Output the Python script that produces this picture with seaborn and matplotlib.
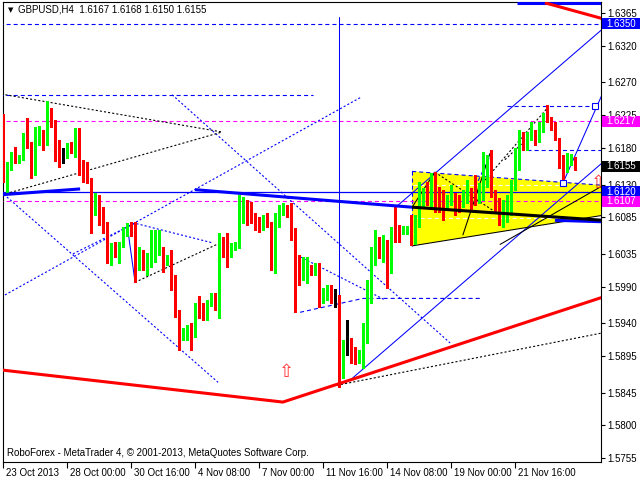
import numpy as np
import pandas as pd
import matplotlib
matplotlib.use('Agg')
import matplotlib.pyplot as plt
import matplotlib.transforms as mtransforms
from matplotlib.patches import Rectangle, Polygon
import seaborn as sns

# H4 candles (bar index = position from the left)
opens = [1.6224, 1.6142, 1.6154, 1.6173, 1.6161, 1.6166, 1.6188, 1.6187, 1.6144, 1.6191,
         1.6201, 1.6187, 1.6224, 1.6214, 1.6188, 1.6162, 1.6169, 1.6184, 1.6175, 1.6205,
         1.6147, 1.6143, 1.6136, 1.6091, 1.6106, 1.6095, 1.6068, 1.6024, 1.6044, 1.6038,
         1.6047, 1.6064, 1.6072, 1.6075, 1.6033, 1.6036, 1.6016, 1.6020, 1.6029, 1.6038,
         1.6040, 1.6023, 1.6038, 1.6003, 1.5954, 1.5920, 1.5920, 1.5928, 1.5924, 1.5955,
         1.5955, 1.5947, 1.5966, 1.5975, 1.5965, 1.6051, 1.6054, 1.6033, 1.6044, 1.6044,
         1.6081, 1.6097, 1.6088, 1.6084, 1.6079, 1.6070, 1.6084, 1.6075, 1.6016, 1.6075,
         1.6092, 1.6098, 1.6092, 1.6068, 1.6031, 1.6002, 1.5999, 1.6016, 1.6010, 1.6020,
         1.5972, 1.5974, 1.5988, 1.5974, 1.5974, 1.5872, 1.5913, 1.5914, 1.5903, 1.5890,
         1.5887, 1.5917, 1.5972, 1.6024, 1.6050, 1.6029, 1.6036, 1.6013, 1.6081, 1.6072,
         1.6065, 1.6065, 1.6068, 1.6054, 1.6081, 1.6105, 1.6123, 1.6118, 1.6143, 1.6118,
         1.6109, 1.6099, 1.6106, 1.6113, 1.6106, 1.6106, 1.6109, 1.6118, 1.6120, 1.6109,
         1.6112, 1.6129, 1.6159, 1.6118, 1.6105, 1.6084, 1.6086, 1.6091, 1.6127, 1.6159,
         1.6198, 1.6184, 1.6194, 1.6198, 1.6191, 1.6205, 1.6235, 1.6221, 1.6209, 1.6191,
         1.6168, 1.6153, 1.6160, 1.6167]
highs = [1.6227, 1.6161, 1.6175, 1.6181, 1.6170, 1.6201, 1.6221, 1.6188, 1.6209, 1.6210,
         1.6205, 1.6244, 1.6235, 1.6218, 1.6191, 1.6180, 1.6187, 1.6188, 1.6207, 1.6207,
         1.6164, 1.6161, 1.6139, 1.6118, 1.6116, 1.6099, 1.6079, 1.6050, 1.6051, 1.6051,
         1.6072, 1.6077, 1.6079, 1.6079, 1.6044, 1.6040, 1.6036, 1.6068, 1.6068, 1.6068,
         1.6044, 1.6033, 1.6040, 1.6006, 1.5958, 1.5934, 1.5938, 1.5940, 1.5968, 1.5977,
         1.5968, 1.5972, 1.5981, 1.5981, 1.6064, 1.6058, 1.6064, 1.6050, 1.6051, 1.6116,
         1.6113, 1.6109, 1.6106, 1.6091, 1.6086, 1.6088, 1.6091, 1.6079, 1.6091, 1.6102,
         1.6105, 1.6102, 1.6105, 1.6070, 1.6033, 1.6031, 1.6031, 1.6020, 1.6023, 1.6023,
         1.5988, 1.5992, 1.5992, 1.5987, 1.5979, 1.5917, 1.5944, 1.5920, 1.5907, 1.5903,
         1.5940, 1.5999, 1.6044, 1.6068, 1.6058, 1.6061, 1.6054, 1.6072, 1.6099, 1.6075,
         1.6073, 1.6073, 1.6088, 1.6088, 1.6133, 1.6125, 1.6133, 1.6146, 1.6147, 1.6127,
         1.6123, 1.6116, 1.6129, 1.6118, 1.6116, 1.6123, 1.6136, 1.6125, 1.6143, 1.6132,
         1.6175, 1.6170, 1.6177, 1.6123, 1.6112, 1.6109, 1.6116, 1.6136, 1.6180, 1.6205,
         1.6202, 1.6202, 1.6216, 1.6205, 1.6216, 1.6228, 1.6239, 1.6223, 1.6216, 1.6194,
         1.6170, 1.6173, 1.6172, 1.6168]
lows = [1.6134, 1.6120, 1.6150, 1.6160, 1.6160, 1.6164, 1.6180, 1.6139, 1.6143, 1.6184,
        1.6177, 1.6184, 1.6209, 1.6162, 1.6154, 1.6160, 1.6166, 1.6173, 1.6168, 1.6143,
        1.6134, 1.6132, 1.6064, 1.6088, 1.6075, 1.6064, 1.6023, 1.6020, 1.6031, 1.6023,
        1.6044, 1.6060, 1.6060, 1.5996, 1.6013, 1.6013, 1.6006, 1.6017, 1.6024, 1.6033,
        1.6010, 1.6020, 1.5986, 1.5948, 1.5903, 1.5917, 1.5917, 1.5903, 1.5921, 1.5947,
        1.5944, 1.5944, 1.5963, 1.5958, 1.5947, 1.6031, 1.6017, 1.6031, 1.6040, 1.6043,
        1.6077, 1.6075, 1.6077, 1.6068, 1.6065, 1.6068, 1.6072, 1.6013, 1.6009, 1.6072,
        1.6088, 1.6086, 1.6054, 1.5955, 1.5992, 1.5999, 1.5995, 1.6006, 1.6006, 1.5962,
        1.5968, 1.5972, 1.5968, 1.5962, 1.5853, 1.5865, 1.5896, 1.5886, 1.5884, 1.5886,
        1.5879, 1.5913, 1.5968, 1.6020, 1.6029, 1.6024, 1.5988, 1.6009, 1.6051, 1.6051,
        1.6062, 1.6062, 1.6047, 1.6048, 1.6072, 1.6099, 1.6102, 1.6099, 1.6092, 1.6092,
        1.6081, 1.6095, 1.6102, 1.6088, 1.6092, 1.6099, 1.6105, 1.6095, 1.6102, 1.6105,
        1.6109, 1.6127, 1.6113, 1.6092, 1.6075, 1.6072, 1.6079, 1.6088, 1.6123, 1.6150,
        1.6177, 1.6177, 1.6191, 1.6184, 1.6188, 1.6202, 1.6216, 1.6205, 1.6191, 1.6153,
        1.6132, 1.6147, 1.6157, 1.6150]
closes = [1.6150, 1.6155, 1.6172, 1.6161, 1.6169, 1.6188, 1.6183, 1.6143, 1.6194, 1.6199,
          1.6187, 1.6229, 1.6212, 1.6164, 1.6161, 1.6162, 1.6183, 1.6176, 1.6202, 1.6146,
          1.6142, 1.6136, 1.6091, 1.6105, 1.6091, 1.6068, 1.6024, 1.6044, 1.6038, 1.6047,
          1.6065, 1.6070, 1.6062, 1.6024, 1.6038, 1.6017, 1.6023, 1.6040, 1.6051, 1.6050,
          1.6016, 1.6029, 1.5999, 1.5954, 1.5907, 1.5927, 1.5931, 1.5924, 1.5954, 1.5953,
          1.5948, 1.5968, 1.5970, 1.5961, 1.6050, 1.6033, 1.6031, 1.6043, 1.6047, 1.6084,
          1.6096, 1.6086, 1.6084, 1.6072, 1.6068, 1.6084, 1.6075, 1.6016, 1.6077, 1.6092,
          1.6098, 1.6091, 1.6068, 1.6002, 1.6001, 1.6020, 1.6027, 1.6010, 1.6020, 1.5972,
          1.5979, 1.5988, 1.5972, 1.5974, 1.5872, 1.5913, 1.5913, 1.5901, 1.5887, 1.5896,
          1.5920, 1.5975, 1.6024, 1.6057, 1.6033, 1.6054, 1.6006, 1.6068, 1.6068, 1.6064,
          1.6069, 1.6070, 1.6054, 1.6079, 1.6103, 1.6118, 1.6109, 1.6134, 1.6118, 1.6106,
          1.6099, 1.6109, 1.6118, 1.6095, 1.6098, 1.6113, 1.6120, 1.6105, 1.6106, 1.6125,
          1.6132, 1.6159, 1.6118, 1.6099, 1.6086, 1.6099, 1.6092, 1.6127, 1.6173, 1.6201,
          1.6187, 1.6195, 1.6201, 1.6191, 1.6209, 1.6222, 1.6218, 1.6207, 1.6194, 1.6157,
          1.6147, 1.6166, 1.6167, 1.6155]

date_ticks = [0, 16, 32, 48, 64, 80, 96, 112, 128]
date_labels = ['23 Oct 2013', '28 Oct 00:00', '30 Oct 16:00', '4 Nov 08:00', '7 Nov 00:00',
               '11 Nov 16:00', '14 Nov 08:00', '19 Nov 00:00', '21 Nov 16:00']
price_ticks = [1.6365, 1.6320, 1.6270, 1.6225, 1.6180, 1.6130, 1.6085, 1.6035,
               1.5990, 1.5940, 1.5895, 1.5845, 1.5800, 1.5755]

# price levels (value, colour) shown as boxes on the price scale
level_tags = [(1.6350, '#0000ff'), (1.6217, '#ff00ff'), (1.6155, '#000000'),
              (1.6120, '#0000ff'), (1.6107, '#ff00ff')]

# drawing objects, (bar, price) anchor points
blue_dash_full = [(-1, 1.6350), (150, 1.6350)]
blue_dash_left = [(-1, 1.6253), (77.4, 1.6253)]
blue_dash_high = [(125.9, 1.6238), (148.2, 1.6238)]
blue_dash_mid = [(130.9, 1.6177), (150, 1.6177)]
blue_dash_low = [(74.2, 1.5955), (89.9, 1.5974), (119.2, 1.5974)]
blue_dash_small = [(118.7, 1.6135), (122.4, 1.6177)]
magenta_levels = [1.6217, 1.6107]
blue_level = 1.6120

thick_blue = [
    [(-0.5, 1.6116), (19.2, 1.6124)],
    [(47.9, 1.6123), (79.2, 1.6109), (102.2, 1.6099)],
    [(137.9, 1.6081), (150, 1.6079)],
    [(128.4, 1.6379), (150, 1.6379)],
]
thick_black = [(102.2, 1.6099), (150, 1.6081)]
thick_red = [
    [(-0.5, 1.5876), (69.9, 1.5832), (150, 1.5976)],
    [(135.4, 1.6379), (150, 1.6357)],
]
thin_blue = [
    [(84, 1.6360), (84, 1.5855)],
    [(86.7, 1.5862), (150, 1.6161)],
    [(97.9, 1.6098), (150, 1.6344)],
    [(139.9, 1.6132), (150, 1.6257)],
    [(30.9, 1.6077), (32.9, 1.5998)],
]
blue_dotted = [
    [(0.9, 1.6113), (53.7, 1.5859)],
    [(42.2, 1.6253), (111.7, 1.5913)],
    [(-0.5, 1.5976), (89.2, 1.6249)],
    [(74.2, 1.6031), (95.4, 1.5972)],
    [(17.4, 1.6035), (32.9, 1.6077), (52.4, 1.6050)],
]
black_dotted = [
    [(-0.5, 1.6254), (54.7, 1.6202)],
    [(1.7, 1.6119), (54.7, 1.6202)],
    [(32.9, 1.5996), (54.2, 1.6050)],
    [(83.4, 1.5855), (150, 1.5927)],
    [(107.9, 1.6147), (123.4, 1.6091)],
    [(120.4, 1.6136), (136.2, 1.6236)],
    [(125.4, 1.6164), (131.2, 1.6194)],
]
black_thin = [
    [(102.2, 1.6046), (150, 1.6088)],
    [(102.2, 1.6099), (107.9, 1.6147)],
    [(114.9, 1.6061), (121.7, 1.6173)],
    [(124.2, 1.6048), (150, 1.6129)],
]
yellow_zone = [(102.2, 1.6148), (150, 1.6129), (150, 1.6088), (102.2, 1.6046)]
white_dashed = [1.6129, 1.6084]
markers = [(139.9, 1.6132), (147.9, 1.6238)]
arrows = [(70.9, 1.5873), (148.7, 1.6132)]

sns.set_theme(style='white')
plt.rcParams['font.family'] = ['Liberation Sans', 'DejaVu Sans']
plt.rcParams['lines.scale_dashes'] = False

fig = plt.figure(figsize=(6.4, 4.8), dpi=100)
fig.patch.set_facecolor('white')
ax = fig.add_axes([3 / 640, 18 / 480, 598 / 640, 460 / 480])
ax.set_facecolor('white')

DASH = (0, (2.9, 2.2))
DOT = (0, (1.5, 1.5))


def draw(points, **kw):
    xs, ys = zip(*points)
    ax.plot(xs, ys, **kw)


# yellow zone behind the candles
ax.add_patch(Polygon(yellow_zone, closed=True, fc='#ffff00', ec='none', zorder=1))
for p in white_dashed:
    draw([(102.5, p), (140, p)], color='white', lw=0.8, ls=DASH, zorder=2)
draw([yellow_zone[0], (150, 1.6129)], color='#0000ff', lw=0.8, ls=DASH, zorder=3)
draw([yellow_zone[0], yellow_zone[3]], color='#0000ff', lw=0.8, ls=DASH, zorder=3)

for p in magenta_levels:
    draw([(-1, p), (150, p)], color='#ff00ff', lw=0.8, ls=DASH, zorder=3)
draw([(-1, blue_level), (150, blue_level)], color='#0000ff', lw=0.9, zorder=3)
for seg in [blue_dash_full, blue_dash_left, blue_dash_high, blue_dash_mid, blue_dash_low, blue_dash_small]:
    draw(seg, color='#0000ff', lw=0.8, ls=DASH, zorder=3)
for seg in blue_dotted:
    draw(seg, color='#0000ff', lw=0.8, ls=DOT, zorder=3)
for seg in black_dotted:
    draw(seg, color='black', lw=0.8, ls=DOT, zorder=3)
for seg in thin_blue:
    draw(seg, color='#0000ff', lw=0.75, zorder=3)
for seg in black_thin:
    draw(seg, color='black', lw=0.75, zorder=3)

# candles
df = pd.DataFrame({'o': opens, 'h': highs, 'l': lows, 'c': closes})
df['bar'] = np.arange(len(df))
df['kind'] = np.where(df.c > df.o, 'up', np.where(df.c < df.o, 'down', 'flat'))
palette = {'up': '#00ff00', 'down': '#ff0000', 'flat': '#000000'}
cols = df['kind'].map(palette)
ax.vlines(df['bar'], df['l'], df['h'], colors=cols, lw=0.8, antialiased=False, zorder=5)
body = (df['c'] - df['o']).abs().clip(lower=0.00012)
ax.bar(df['bar'], body, bottom=df[['o', 'c']].min(axis=1), width=0.72,
       color=cols, linewidth=0, antialiased=False, zorder=6)

# thick lines on top
for seg in thick_blue:
    draw(seg, color='#0000ff', lw=2.2, zorder=7, solid_capstyle='butt')
draw(thick_black, color='black', lw=2.2, zorder=7, solid_capstyle='butt')
for seg in thick_red:
    draw(seg, color='#ff0000', lw=2.2, zorder=7, solid_capstyle='butt')

mk = pd.DataFrame(markers, columns=['bar', 'price'])
ax.plot(mk['bar'], mk['price'], ls='none', marker='s', ms=4, mfc='white', mec='#0000ff', mew=0.8, zorder=8)
for bx, py in arrows:
    ax.text(bx, py, '\u21e7', color='#ff3030', fontsize=13, ha='center', va='center',
            family=['DejaVu Sans'], zorder=8, clip_on=True)

ax.set_xlim(-0.075, 149.425)
ax.set_ylim(1.57499, 1.63801)

ax.yaxis.tick_right()
ax.set_yticks(price_ticks)
ax.set_yticklabels([f'{v:.4f}' for v in price_ticks])
ax.tick_params(axis='y', direction='out', length=3, width=0.8, pad=1.5, labelsize=7,
               colors='black', right=True, left=False)
ax.set_xticks(date_ticks)
ax.set_xticklabels(date_labels)
ax.tick_params(axis='x', direction='out', length=4, width=0.8, pad=0.5, labelsize=7,
               colors='black', bottom=True)
shift = mtransforms.ScaledTranslation(2 / 72, 0, fig.dpi_scale_trans)
for lbl in ax.get_xticklabels():
    lbl.set_horizontalalignment('left')
    lbl.set_transform(lbl.get_transform() + shift)
for sp in ax.spines.values():
    sp.set_color('black')
    sp.set_linewidth(0.8)
    sp.set_visible(True)
ax.grid(False)

# price boxes on the scale (they cover parts of the 1.6225 and 1.6130 labels, as in MT4)
blend = mtransforms.blended_transform_factory(fig.transFigure, ax.transData)
box_h = 0.0015
for val, col in level_tags:
    fig.add_artist(Rectangle((602 / 640, val - box_h / 2), 38 / 640, box_h, transform=blend,
                             fc=col, ec=col, lw=0, zorder=5))
    fig.text(606 / 640, val, f'{val:.4f}', transform=blend, color='white', fontsize=7,
             va='center', ha='left', zorder=6)

fig.text(8 / 640, 1 - 10 / 480, '\u25bc', fontsize=5, color='black', va='center',
         family=['DejaVu Sans'])
fig.text(18 / 640, 1 - 10 / 480, 'GBPUSD,H4  1.6167 1.6168 1.6150 1.6155', fontsize=7,
         color='black', va='center')
fig.text(7 / 640, 1 - 453 / 480,
         'RoboForex - MetaTrader 4, \u00a9 2001-2013, MetaQuotes Software Corp.',
         fontsize=7, color='black', va='center')

fig.savefig('out.png', dpi=100, facecolor='white')
